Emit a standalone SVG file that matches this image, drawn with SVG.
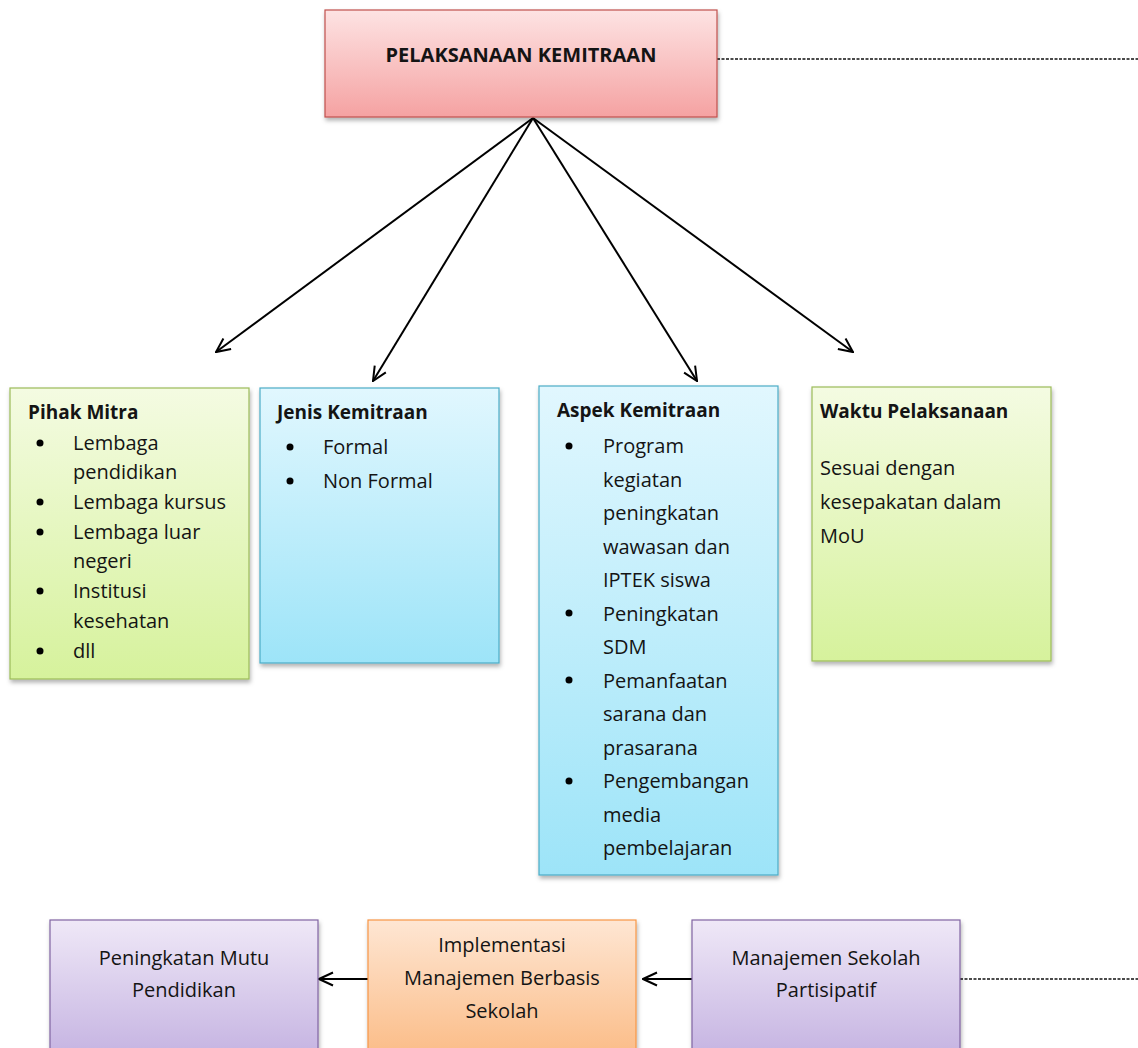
<svg xmlns="http://www.w3.org/2000/svg" width="1138" height="1048" viewBox="0 0 1138 1048">
<style>
.t{font-family:"Open Sans","Liberation Sans",sans-serif;font-size:20px;fill:#141414}
.h{font-family:"Open Sans","Liberation Sans",sans-serif;font-size:19px;font-weight:bold;fill:#141414}
.ttl{font-size:20px}
.c{text-anchor:middle}
.conn{stroke:#000;stroke-width:2;fill:none}
.dash{stroke:#111;stroke-width:1.6;stroke-dasharray:3 1.5;fill:none}
</style>
<defs>
<linearGradient id="gPink" x1="0" y1="0" x2="0" y2="1"><stop offset="0" stop-color="#fde3e3"/><stop offset="1" stop-color="#f5a2a2"/></linearGradient>
<linearGradient id="gGreen" x1="0" y1="0" x2="0" y2="1"><stop offset="0" stop-color="#f4fbe2"/><stop offset="1" stop-color="#d6f29c"/></linearGradient>
<linearGradient id="gBlue" x1="0" y1="0" x2="0" y2="1"><stop offset="0" stop-color="#e1f7fe"/><stop offset="1" stop-color="#9de4f8"/></linearGradient>
<linearGradient id="gPurple" x1="0" y1="0" x2="0" y2="1"><stop offset="0" stop-color="#efe8f7"/><stop offset="1" stop-color="#c4b2e1"/></linearGradient>
<linearGradient id="gOrange" x1="0" y1="0" x2="0" y2="1"><stop offset="0" stop-color="#fee6d3"/><stop offset="1" stop-color="#fbbb85"/></linearGradient>
<filter id="sh" x="-10%" y="-10%" width="120%" height="120%"><feDropShadow dx="1" dy="3" stdDeviation="2" flood-color="#000" flood-opacity="0.3"/></filter>
<marker id="ah" viewBox="0 0 16 16" refX="15" refY="8" markerWidth="16" markerHeight="16" markerUnits="userSpaceOnUse" orient="auto">
<path d="M1,1.5 L15,8 L1,14.5" fill="none" stroke="#000" stroke-width="2"/>
</marker>
</defs>

<g id="connectors">
<line class="conn" x1="533" y1="118" x2="216" y2="352" marker-end="url(#ah)"/>
<line class="conn" x1="533" y1="118" x2="373" y2="381" marker-end="url(#ah)"/>
<line class="conn" x1="533" y1="118" x2="697" y2="381" marker-end="url(#ah)"/>
<line class="conn" x1="533" y1="118" x2="853" y2="352" marker-end="url(#ah)"/>
<line class="conn" x1="368" y1="979" x2="319" y2="979" marker-end="url(#ah)"/>
<line class="conn" x1="692" y1="979" x2="643" y2="979" marker-end="url(#ah)"/>
<line class="dash" x1="717" y1="59" x2="1138" y2="59"/>
<line class="dash" x1="960" y1="979" x2="1138" y2="979"/>
</g>

<g id="pelaksanaan">
<rect x="325" y="10" width="392" height="107" fill="url(#gPink)" stroke="#c0504d" stroke-width="1.2" filter="url(#sh)"/>
<text class="h ttl c" x="521" y="62">PELAKSANAAN KEMITRAAN</text>
</g>

<g id="pihak-mitra">
<rect x="10" y="388" width="239" height="291" fill="url(#gGreen)" stroke="#9bbb59" stroke-width="1.2" filter="url(#sh)"/>
<text class="h" x="28" y="419">Pihak Mitra</text>
<circle cx="40" cy="443" r="3.5" fill="#000"/>
<circle cx="40" cy="502" r="3.5" fill="#000"/>
<circle cx="40" cy="532" r="3.5" fill="#000"/>
<circle cx="40" cy="591" r="3.5" fill="#000"/>
<circle cx="40" cy="651" r="3.5" fill="#000"/>
<text class="t" x="73" y="450">Lembaga</text>
<text class="t" x="73" y="479">pendidikan</text>
<text class="t" x="73" y="509">Lembaga kursus</text>
<text class="t" x="73" y="539">Lembaga luar</text>
<text class="t" x="73" y="568">negeri</text>
<text class="t" x="73" y="598">Institusi</text>
<text class="t" x="73" y="628">kesehatan</text>
<text class="t" x="73" y="658">dll</text>
</g>

<g id="jenis-kemitraan">
<rect x="260" y="388" width="239" height="275" fill="url(#gBlue)" stroke="#4bacc6" stroke-width="1.2" filter="url(#sh)"/>
<text class="h" x="277" y="419">Jenis Kemitraan</text>
<circle cx="290" cy="447" r="3.5" fill="#000"/>
<circle cx="290" cy="481" r="3.5" fill="#000"/>
<text class="t" x="323" y="454">Formal</text>
<text class="t" x="323" y="488">Non Formal</text>
</g>

<g id="aspek-kemitraan">
<rect x="539" y="386" width="239" height="489" fill="url(#gBlue)" stroke="#4bacc6" stroke-width="1.2" filter="url(#sh)"/>
<text class="h" x="557" y="417">Aspek Kemitraan</text>
<circle cx="569" cy="446" r="3.5" fill="#000"/>
<circle cx="569" cy="613" r="3.5" fill="#000"/>
<circle cx="569" cy="680" r="3.5" fill="#000"/>
<circle cx="569" cy="781" r="3.5" fill="#000"/>
<text class="t" x="603" y="453">Program</text>
<text class="t" x="603" y="486.5">kegiatan</text>
<text class="t" x="603" y="520">peningkatan</text>
<text class="t" x="603" y="553.5">wawasan dan</text>
<text class="t" x="603" y="587">IPTEK siswa</text>
<text class="t" x="603" y="620.5">Peningkatan</text>
<text class="t" x="603" y="654">SDM</text>
<text class="t" x="603" y="687.5">Pemanfaatan</text>
<text class="t" x="603" y="721">sarana dan</text>
<text class="t" x="603" y="754.5">prasarana</text>
<text class="t" x="603" y="788">Pengembangan</text>
<text class="t" x="603" y="821.5">media</text>
<text class="t" x="603" y="855">pembelajaran</text>
</g>

<g id="waktu-pelaksanaan">
<rect x="812" y="387" width="239" height="274" fill="url(#gGreen)" stroke="#9bbb59" stroke-width="1.2" filter="url(#sh)"/>
<text class="h" x="820" y="418">Waktu Pelaksanaan</text>
<text class="t" x="820" y="475">Sesuai dengan</text>
<text class="t" x="820" y="509">kesepakatan dalam</text>
<text class="t" x="820" y="543">MoU</text>
</g>

<g id="peningkatan-mutu">
<rect x="50" y="920" width="268" height="140" fill="url(#gPurple)" stroke="#8064a2" stroke-width="1.2" filter="url(#sh)"/>
<text class="t c" x="184" y="965">Peningkatan Mutu</text>
<text class="t c" x="184" y="997">Pendidikan</text>
</g>

<g id="implementasi-mbs">
<rect x="368" y="920" width="268" height="140" fill="url(#gOrange)" stroke="#f79646" stroke-width="1.2" filter="url(#sh)"/>
<text class="t c" x="502" y="952">Implementasi</text>
<text class="t c" x="502" y="985">Manajemen Berbasis</text>
<text class="t c" x="502" y="1018">Sekolah</text>
</g>

<g id="manajemen-partisipatif">
<rect x="692" y="920" width="268" height="140" fill="url(#gPurple)" stroke="#8064a2" stroke-width="1.2" filter="url(#sh)"/>
<text class="t c" x="826" y="965">Manajemen Sekolah</text>
<text class="t c" x="826" y="997">Partisipatif</text>
</g>
</svg>
